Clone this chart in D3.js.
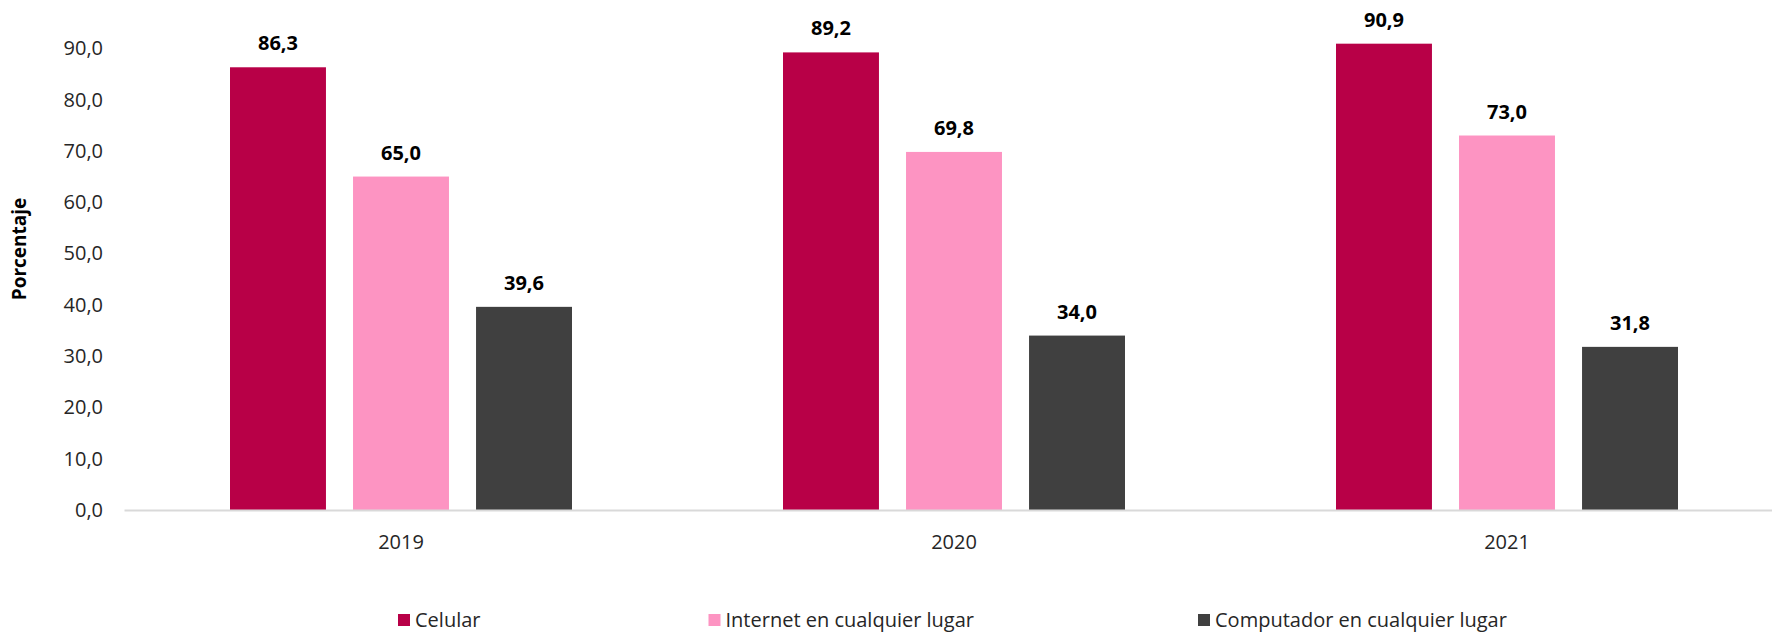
<!DOCTYPE html>
<html>
<head>
<meta charset="utf-8">
<script src="https://cdn.jsdelivr.net/npm/d3@7"></script>
<style>
  html, body { margin: 0; padding: 0; background: #fff; }
  svg { display: block; }
  text { font-family: "Open Sans", "Noto Sans", sans-serif; }
</style>
</head>
<body>
<svg id="chart" width="1772" height="632"></svg>
<script>
const categories = ["2019", "2020", "2021"];
const seriesNames = ["Celular", "Internet en cualquier lugar", "Computador en cualquier lugar"];
const celular = [86.3, 89.2, 90.9];
const internet = [65.0, 69.8, 73.0];
const computador = [39.6, 34.0, 31.8];
const yTicks = [0, 10, 20, 30, 40, 50, 60, 70, 80, 90];
const colors = ["#b80047", "#fd94c2", "#404040"];

const seriesValues = [celular, internet, computador];

const svg = d3.select("#chart");
const W = 1772, H = 632;

const x0 = d3.scaleBand().domain(categories).range([124.5, 1783.5]).padding(0);
const groupPad = 105.5;
const x1 = d3.scaleBand().domain(seriesNames)
  .range([groupPad, x0.bandwidth() - groupPad]).paddingInner(0.22);
const y = d3.scaleLinear().domain([0, 100]).range([510, -3]);
const color = d3.scaleOrdinal().domain(seriesNames).range(colors);

const fmt = v => d3.format(".1f")(v).replace(".", ",");

// y axis labels
const yAxis = d3.axisLeft(y).tickValues(yTicks).tickFormat(fmt).tickSize(0).tickPadding(0);
const yg = svg.append("g").attr("transform", "translate(103,0)").call(yAxis);
yg.select(".domain").remove();
yg.selectAll("text").attr("font-size", "20px").attr("fill", "#262626")
  .style("font-family", '"Open Sans", sans-serif');

// y title
svg.append("text")
  .attr("transform", "translate(26,249) rotate(-90)")
  .attr("text-anchor", "middle")
  .attr("font-size", "19px").attr("font-weight", "bold").attr("fill", "#000")
  .text("Porcentaje");

// bars
const groups = svg.append("g").selectAll("g").data(categories).join("g")
  .attr("transform", d => `translate(${x0(d)},0)`);

groups.selectAll("rect")
  .data((c, ci) => seriesNames.map((s, si) => ({ s, v: seriesValues[si][ci] })))
  .join("rect")
  .attr("x", d => x1(d.s))
  .attr("width", x1.bandwidth())
  .attr("y", d => y(d.v))
  .attr("height", d => y(0) - y(d.v))
  .attr("fill", d => color(d.s));

groups.selectAll("text.val")
  .data((c, ci) => seriesNames.map((s, si) => ({ s, v: seriesValues[si][ci] })))
  .join("text").attr("class", "val")
  .attr("x", d => x1(d.s) + x1.bandwidth() / 2)
  .attr("y", d => y(d.v) - 17)
  .attr("text-anchor", "middle")
  .attr("font-size", "20px").attr("font-weight", "bold").attr("fill", "#000")
  .text(d => fmt(d.v));

// x axis
const xAxis = d3.axisBottom(x0).tickSize(0).tickPadding(0);
const xg = svg.append("g").attr("transform", "translate(0,510)").call(xAxis);
xg.select(".domain").remove();
xg.selectAll("text").attr("font-size", "20px").attr("fill", "#262626")
  .attr("dy", "0").attr("y", 39)
  .style("font-family", '"Open Sans", sans-serif');
svg.append("line")
  .attr("x1", 124.5).attr("x2", W).attr("y1", 510.5).attr("y2", 510.5)
  .attr("stroke", "#d9d9d9").attr("stroke-width", 2);

// legend
const legendX = [398, 708.5, 1198];
const lg = svg.append("g").selectAll("g").data(seriesNames).join("g")
  .attr("transform", (d, i) => `translate(${legendX[i]},614)`);
lg.append("rect").attr("width", 12).attr("height", 12).attr("fill", d => color(d));
lg.append("text").attr("x", 17).attr("y", 13)
  .attr("font-size", "20px").attr("fill", "#262626").text(d => d);
</script>
</body>
</html>
